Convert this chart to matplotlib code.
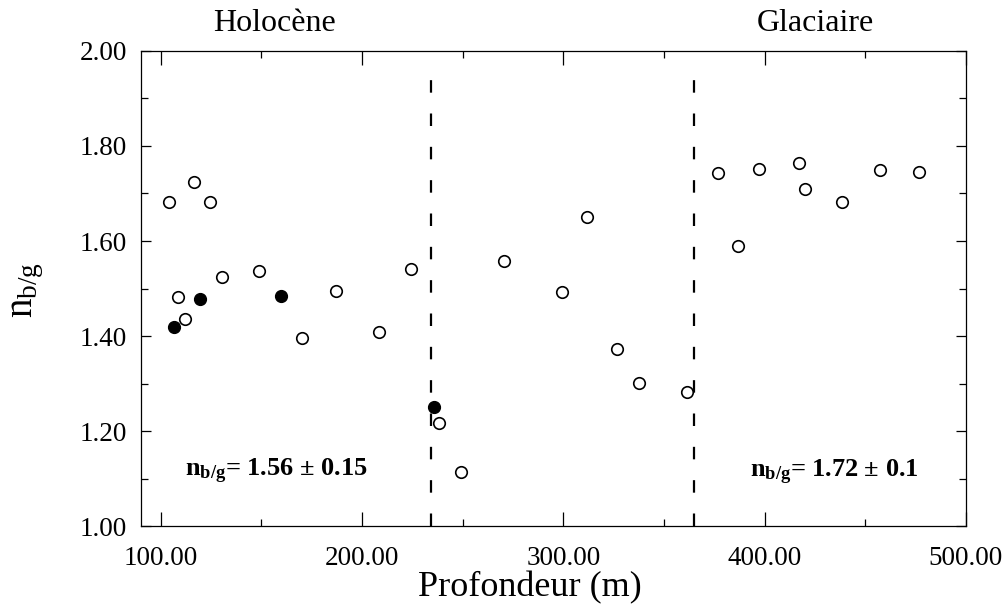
import numpy as np
import matplotlib
matplotlib.use('Agg')
import matplotlib.pyplot as plt
from matplotlib.ticker import MultipleLocator, FormatStrFormatter

plt.rcParams['font.family'] = ['Liberation Serif', 'DejaVu Serif']
plt.rcParams['mathtext.fontset'] = 'custom'
plt.rcParams['mathtext.rm'] = 'Liberation Serif'
plt.rcParams['mathtext.it'] = 'Liberation Serif:italic'
plt.rcParams['mathtext.bf'] = 'Liberation Serif:bold'
plt.rcParams['lines.scale_dashes'] = False

# open circles: depth (m), n_b/g
open_depth = [104.1, 116.4, 124.4, 108.3, 112.1, 130.4, 149.0, 169.9, 186.8,
              208.6, 224.2, 238.4, 249.1, 270.6, 299.4, 311.8, 326.7, 337.5,
              361.5, 377.0, 386.9, 397.1, 417.0, 420.2, 438.3, 457.1, 476.8]
open_nbg = [1.681, 1.724, 1.681, 1.483, 1.437, 1.524, 1.538, 1.397, 1.496,
            1.409, 1.542, 1.218, 1.114, 1.559, 1.493, 1.651, 1.373, 1.302,
            1.283, 1.742, 1.590, 1.751, 1.763, 1.710, 1.681, 1.749, 1.745]

# filled circles
filled_depth = [106.6, 119.4, 159.9, 235.5]
filled_nbg = [1.419, 1.478, 1.484, 1.251]

# boundaries between periods
boundaries = [234.2, 364.9]

periods = ['Holocène', 'Glaciaire']
means = ['1.56 ± 0.15', '1.72 ± 0.1']

fig = plt.figure(figsize=(10.08, 6.09), dpi=100)
ax = fig.add_axes([0.1396, 0.1355, 0.8187, 0.7812])

ax.plot(open_depth, open_nbg, 'o', ms=8.3, mfc='white', mec='black', mew=1.2)
ax.plot(filled_depth, filled_nbg, 'o', ms=8.5, mfc='black', mec='black', mew=1.0)

for b in boundaries:
    ax.plot([b, b], [1.0, 1.97], color='black', lw=1.6, dashes=(9, 15))

ax.set_xlim(90, 500)
ax.set_ylim(1.0, 2.0)
ax.xaxis.set_major_locator(MultipleLocator(100))
ax.xaxis.set_minor_locator(MultipleLocator(50))
ax.yaxis.set_major_locator(MultipleLocator(0.2))
ax.yaxis.set_minor_locator(MultipleLocator(0.1))
ax.xaxis.set_major_formatter(FormatStrFormatter('%.2f'))
ax.yaxis.set_major_formatter(FormatStrFormatter('%.2f'))

ax.tick_params(axis='x', which='both', direction='in', top=True, labelsize=19.5, pad=14)
ax.tick_params(axis='x', which='major', length=10, width=0.9)
ax.tick_params(axis='x', which='minor', length=5, width=0.9)
ax.tick_params(axis='y', which='both', direction='in', right=True, labelsize=19.5, pad=10)
ax.tick_params(axis='y', which='major', length=7.5, width=0.9)
ax.tick_params(axis='y', which='minor', length=5, width=0.9)
for s in ax.spines.values():
    s.set_linewidth(0.9)

fig.text(530 / 1008, 1 - 596 / 609, 'Profondeur (m)', ha='center', va='baseline', fontsize=26)
fig.text(27 / 1008, 1 - 290 / 609, r'$\mathrm{n_{b/g}}$', rotation=90, ha='center', va='center',
         fontsize=28)

fig.text(275 / 1008, 1 - 31 / 609, periods[0], ha='center', va='baseline', fontsize=23)
fig.text(815 / 1008, 1 - 31 / 609, periods[1], ha='center', va='baseline', fontsize=23)

ax.text(112.1, 1.105, r'$\mathbf{n_{b/g}}$= ' + means[0], ha='left', va='baseline',
        fontsize=19, fontweight='bold')
ax.text(392.5, 1.104, r'$\mathbf{n_{b/g}}$= ' + means[1], ha='left', va='baseline',
        fontsize=19, fontweight='bold')

fig.savefig('out.png', dpi=100)
